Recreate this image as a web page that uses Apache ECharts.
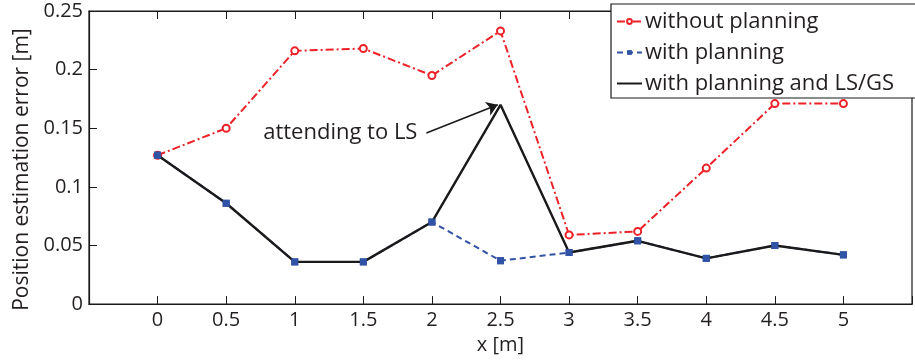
<!DOCTYPE html>
<html>
<head>
<meta charset="utf-8">
<script src="https://cdn.jsdelivr.net/npm/echarts@6/dist/echarts.min.js"></script>
<style>
  html, body { margin: 0; padding: 0; background: #fff; }
  #chart { width: 915px; height: 360px; }
</style>
</head>
<body>
<div id="chart"></div>
<script>
// ---- data ----
const xValues = [0, 0.5, 1, 1.5, 2, 2.5, 3, 3.5, 4, 4.5, 5];
const withoutPlanning = [0.127, 0.150, 0.216, 0.218, 0.195, 0.233, 0.059, 0.062, 0.116, 0.171, 0.171];
const withPlanning = [0.127, 0.086, 0.036, 0.036, 0.070, 0.037, 0.044, 0.054, 0.039, 0.050, 0.042];
const withPlanningLSGS = [0.127, 0.086, 0.036, 0.036, 0.070, 0.170, 0.044, 0.054, 0.039, 0.050, 0.042];
const seriesNames = ['without planning', 'with planning', 'with planning and LS/GS'];
const annotationText = 'attending to LS';
const arrowFrom = [1.96, 0.146];
const arrowTo = [2.48, 0.170];

const pairs = (ys) => xValues.map((x, i) => [x, ys[i]]);

const FONT = 'Open Sans';
const TXT = '#231f20';
const RED = '#ee2028';
const BLUE = '#3153a6';
const BLACK = '#1a1a1a';

const chart = echarts.init(document.getElementById('chart'), null, { renderer: 'canvas' });

const option = {
  animation: false,
  backgroundColor: '#fff',
  textStyle: { fontFamily: FONT, color: TXT },
  grid: {
    left: 89, top: 11, right: -8, bottom: 55,
    show: true, borderColor: BLACK, borderWidth: 1.2, backgroundColor: 'transparent'
  },
  legend: {
    data: [
      seriesNames[0],
      seriesNames[1],
      { name: seriesNames[2], itemStyle: { opacity: 0 } }
    ],
    orient: 'vertical',
    left: 611, top: 4,
    padding: [5, 40, 2, 5],
    itemGap: 6,
    itemWidth: 25, itemHeight: 6,
    backgroundColor: '#fff',
    borderColor: BLACK, borderWidth: 1.2,
    textStyle: { fontFamily: FONT, fontSize: 22, color: TXT, lineHeight: 25, padding: [0, 0, 0, -2] }
  },
  xAxis: [{
    type: 'value',
    min: -0.5, max: 5.5, interval: 0.5,
    position: 'bottom',
    name: 'x [m]', nameLocation: 'middle', nameGap: 29,
    nameTextStyle: { fontFamily: FONT, fontSize: 20, color: TXT },
    axisLine: { show: true, onZero: false, lineStyle: { color: BLACK, width: 1.2 } },
    axisTick: { show: true, inside: true, length: 8, lineStyle: { color: BLACK, width: 1 } },
    axisLabel: {
      fontFamily: FONT, fontSize: 20, color: TXT, margin: 6,
      formatter: (v) => (v < 0 || v > 5) ? '' : String(v)
    },
    splitLine: { show: false }
  }, {
    type: 'value',
    min: -0.5, max: 5.5, interval: 0.5,
    position: 'top',
    axisLine: { show: true, onZero: false, lineStyle: { color: BLACK, width: 1.2 } },
    axisTick: { show: true, inside: true, length: 8, lineStyle: { color: BLACK, width: 1 } },
    axisLabel: { show: false },
    splitLine: { show: false }
  }],
  yAxis: {
    type: 'value',
    min: 0, max: 0.25, interval: 0.05,
    name: 'Position estimation error [m]', nameLocation: 'middle', nameGap: 56,
    nameTextStyle: { fontFamily: FONT, fontSize: 21, color: TXT, padding: [0, 24, 0, 0] },
    axisLine: { show: true, onZero: false, lineStyle: { color: BLACK, width: 1.2 } },
    axisTick: { show: true, inside: true, length: 8, lineStyle: { color: BLACK, width: 1 } },
    axisLabel: { fontFamily: FONT, fontSize: 20, color: TXT, margin: 6 },
    splitLine: { show: false }
  },
  series: [
    {
      name: seriesNames[0], type: 'line', data: pairs(withoutPlanning),
      symbol: 'emptyCircle', symbolSize: 7,
      lineStyle: { color: RED, width: 2, type: [8, 3, 2, 3] },
      itemStyle: { color: RED, borderColor: RED, borderWidth: 1.6 },
      z: 2
    },
    {
      name: seriesNames[1], type: 'line', data: pairs(withPlanning),
      symbol: 'rect', symbolSize: 7,
      lineStyle: { color: BLUE, width: 2, type: [6, 4] },
      itemStyle: { color: BLUE },
      z: 3
    },
    {
      name: seriesNames[2], type: 'line', data: pairs(withPlanningLSGS),
      symbol: 'none',
      lineStyle: { color: BLACK, width: 2.4 },
      itemStyle: { color: BLACK },
      z: 4,
      markLine: {
        silent: true,
        symbol: ['none', 'arrow'], symbolSize: 11,
        lineStyle: { color: BLACK, width: 1.6, type: 'solid' },
        label: { show: false },
        data: [[{ coord: arrowFrom }, { coord: arrowTo }]]
      },
      markPoint: {
        silent: true,
        symbol: 'circle', symbolSize: 0,
        label: {
          show: true, position: 'left', distance: 9,
          formatter: annotationText,
          fontFamily: FONT, fontSize: 22, color: TXT
        },
        data: [{ coord: arrowFrom }]
      }
    },
    {
      name: 'with planning markers', type: 'line', data: pairs(withPlanning),
      symbol: 'rect', symbolSize: 7,
      lineStyle: { opacity: 0 },
      itemStyle: { color: BLUE },
      z: 5
    }
  ]
};
chart.setOption(option);
</script>
</body>
</html>
